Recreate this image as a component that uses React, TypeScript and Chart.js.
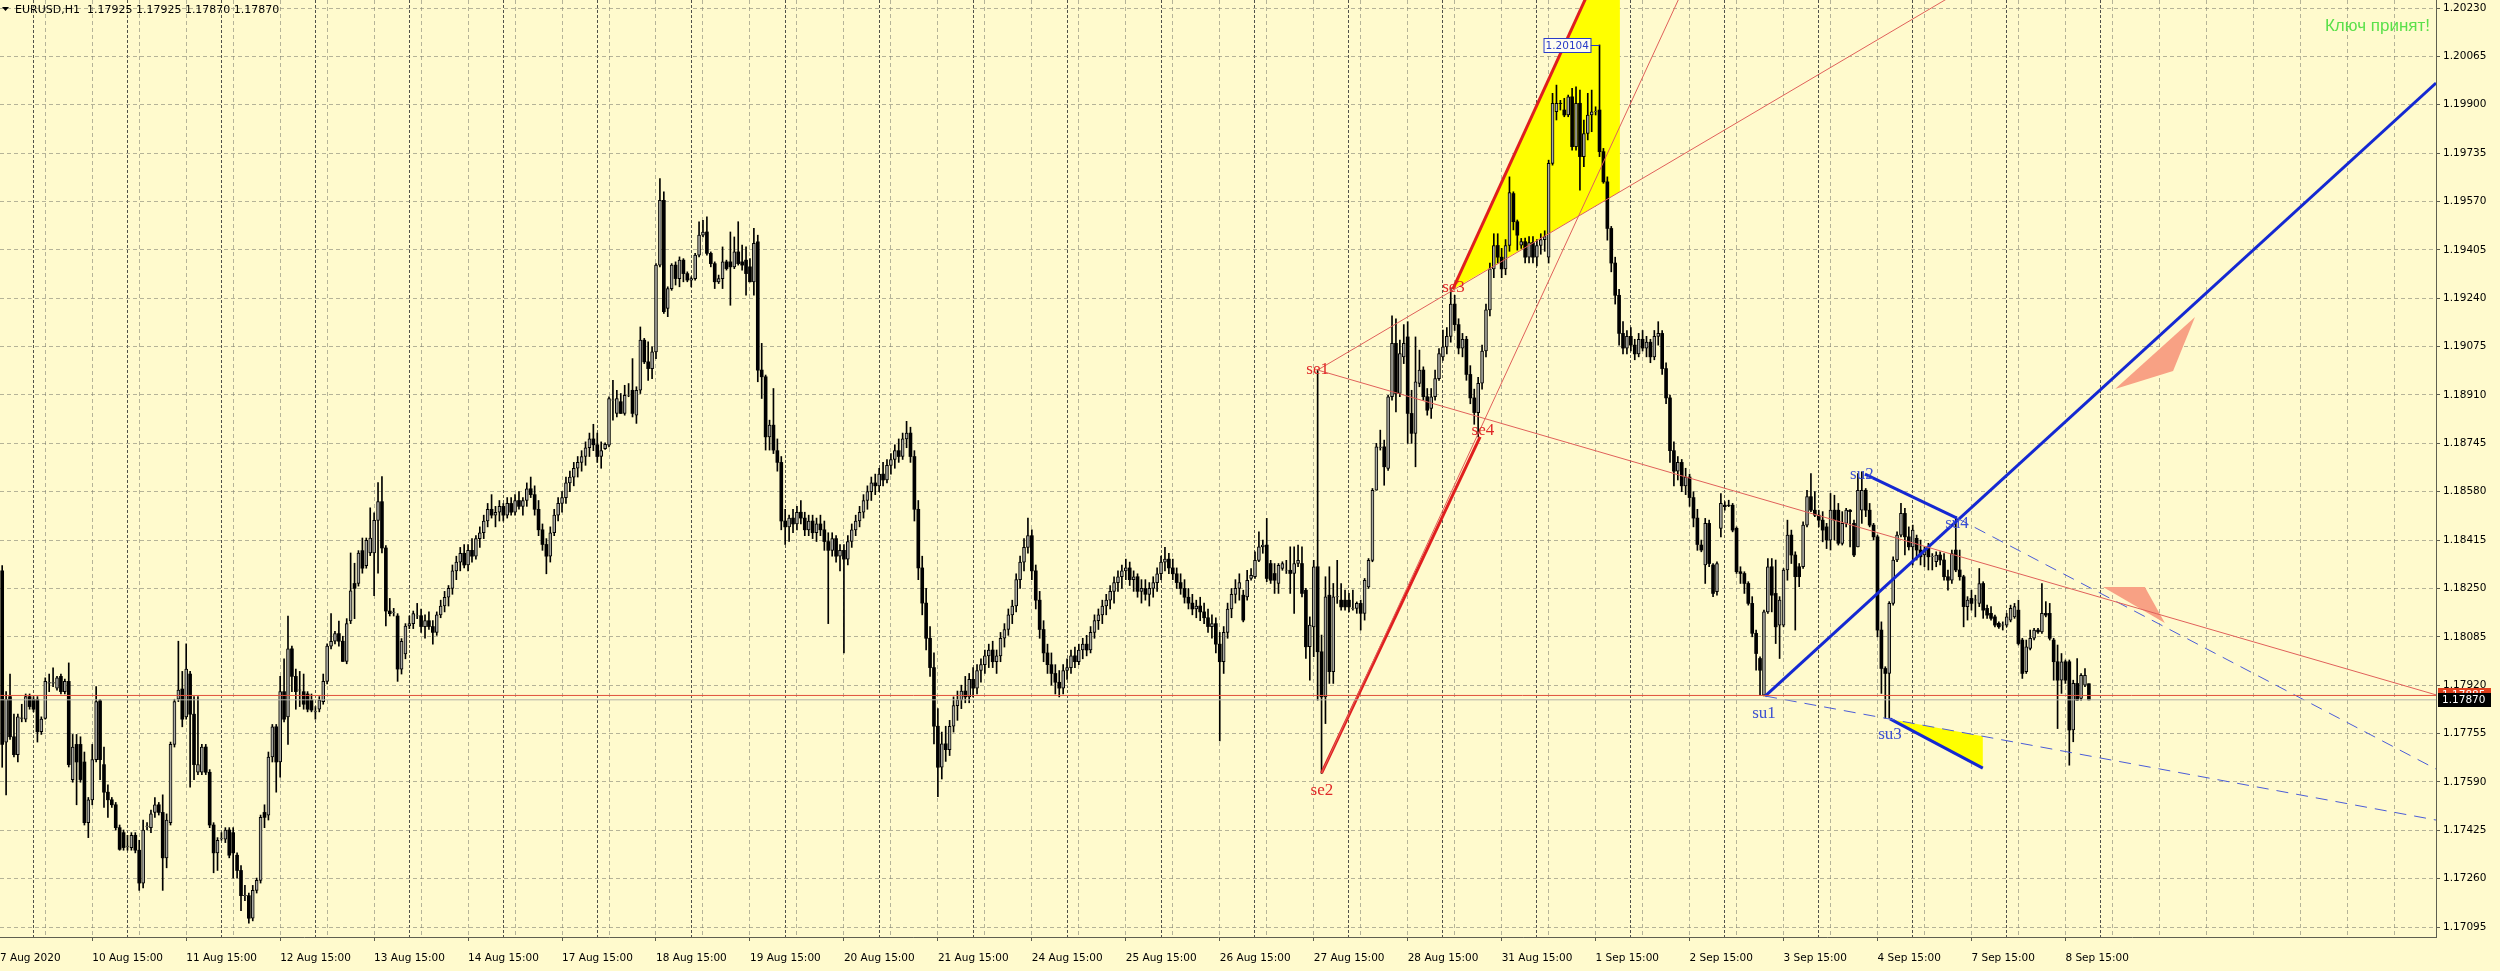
import React, { useEffect, useRef } from 'react';
import { Chart, registerables } from 'chart.js';

Chart.register(...registerables);

// ---------- data ----------
const PRICE_BASE = 1.17; // bar values below are pips above 1.17000
const PIP = 0.0001;

// H1 bars [open, high, low, close] in pips above 1.17000, one array per trading day
const aug07 = [
  [131.0, 132.8, 64.0, 71.8], [72.6, 89.8, 54.6, 87.2], [88.1, 95.8, 73.5, 74.4], [74.4, 82.1, 67.5, 68.3],
  [68.3, 82.1, 65.8, 81.2], [80.7, 85.5, 79.5, 80.9], [80.4, 89.0, 79.5, 88.1], [88.1, 89.0, 83.8, 84.7],
];
const aug10 = [
  [87.2, 88.1, 82.9, 83.8], [87.2, 88.1, 72.6, 76.1], [76.1, 81.2, 75.2, 80.4], [80.7, 94.5, 80.4, 93.3],
  [92.7, 95.8, 89.8, 92.9], [92.7, 97.9, 91.5, 92.9], [91.0, 95.0, 90.3, 94.5], [95.0, 95.8, 89.0, 89.8],
  [89.8, 94.1, 89.0, 93.3], [93.3, 99.6, 64.1, 64.9], [59.8, 75.2, 58.9, 70.9], [71.8, 75.2, 51.2, 65.8],
  [71.8, 74.4, 58.9, 59.8], [65.8, 69.2, 44.3, 45.1], [45.1, 53.7, 40.0, 52.9], [52.9, 71.8, 51.2, 66.6],
  [66.6, 91.5, 65.8, 86.4], [86.7, 87.2, 59.8, 66.6], [64.9, 70.9, 50.3, 55.5], [55.5, 58.0, 46.9, 52.9],
  [52.9, 53.7, 50.3, 51.2], [51.2, 52.0, 42.6, 43.4], [43.4, 44.3, 35.7, 36.0], [41.7, 42.6, 35.7, 36.6],
];
const aug11 = [
  [37.0, 40.8, 35.7, 37.1], [36.6, 41.7, 35.7, 40.8], [40.8, 41.7, 34.8, 35.7], [35.7, 39.1, 22.0, 24.5],
  [24.5, 46.0, 22.8, 42.6], [43.8, 45.1, 42.6, 43.9], [43.4, 49.4, 41.7, 48.1], [48.6, 53.7, 46.9, 51.2],
  [51.2, 52.0, 47.7, 48.6], [48.6, 54.6, 22.0, 33.1], [33.1, 48.1, 29.7, 46.0], [45.1, 72.6, 44.3, 71.8],
  [71.8, 87.2, 70.9, 86.4], [87.2, 107.0, 86.4, 90.3], [90.7, 96.7, 77.8, 80.4], [81.2, 106.1, 80.4, 97.5],
  [95.8, 96.7, 57.2, 82.1], [82.1, 88.1, 59.8, 64.9], [62.3, 88.1, 61.5, 64.9], [62.3, 71.8, 61.5, 70.9],
  [70.9, 71.8, 61.5, 62.3], [62.3, 63.2, 43.4, 44.3], [44.3, 45.1, 28.0, 34.8], [34.8, 40.0, 28.8, 39.1],
];
const aug12 = [
  [39.6, 41.7, 39.1, 39.7], [39.5, 43.4, 38.3, 42.6], [42.6, 43.4, 33.1, 34.0], [41.7, 43.4, 26.2, 34.8],
  [34.0, 34.8, 26.2, 28.8], [28.8, 30.5, 15.1, 20.2], [20.2, 23.7, 18.5, 20.3], [20.2, 21.1, 10.8, 12.5],
  [12.5, 23.7, 11.6, 22.0], [22.0, 26.2, 21.1, 25.4], [25.4, 47.7, 24.5, 46.9], [48.6, 51.2, 43.4, 46.9],
  [47.7, 69.2, 46.0, 67.5], [67.5, 78.6, 65.8, 77.8], [77.8, 78.6, 55.5, 65.8], [65.8, 95.0, 60.6, 89.8],
  [89.8, 101.0, 79.5, 80.4], [81.2, 115.6, 71.8, 104.4], [104.4, 105.3, 89.8, 95.0], [95.0, 97.5, 83.8, 89.8],
  [90.3, 96.7, 84.7, 90.4], [89.8, 95.8, 83.8, 85.5], [89.0, 89.8, 82.9, 83.8], [86.9, 89.0, 82.9, 83.5],
];
const aug13 = [
  [82.9, 84.7, 80.4, 83.0], [83.8, 88.1, 82.9, 86.9], [86.4, 95.8, 85.5, 93.3], [93.3, 106.1, 92.4, 105.3],
  [105.3, 116.4, 104.4, 107.0], [107.0, 110.4, 106.1, 109.6], [109.6, 113.9, 105.3, 107.0], [107.0, 108.7, 100.1, 100.1],
  [100.1, 114.7, 99.3, 113.0], [113.9, 137.1, 113.0, 124.2], [126.7, 133.6, 114.7, 125.0], [126.7, 137.9, 125.8, 137.1],
  [137.9, 142.2, 130.2, 131.9], [132.8, 142.2, 131.9, 141.4], [137.1, 152.5, 136.2, 142.2], [137.1, 150.8, 122.5, 148.2],
  [148.2, 161.1, 130.2, 154.6], [154.6, 163.2, 137.1, 138.8], [138.8, 139.6, 112.2, 117.3], [117.3, 121.6, 115.6, 116.4],
  [116.8, 118.2, 115.6, 116.9], [115.6, 116.4, 93.3, 97.5], [97.5, 107.9, 95.8, 107.0], [102.7, 113.0, 101.0, 112.2],
];
const aug14 = [
  [112.2, 115.6, 111.3, 113.0], [113.0, 117.3, 111.3, 116.4], [115.6, 119.9, 114.7, 115.7], [115.7, 118, 110, 112],
  [112, 116, 108, 114], [114, 117, 111, 112], [112, 114, 106, 110], [110, 117, 109, 116],
  [116, 121, 115, 119], [119, 124, 117, 122], [122, 126, 119, 125], [125, 133, 123, 131],
  [131, 136, 128, 134], [134, 139, 131, 137], [137, 140, 132, 133], [133, 140, 131, 138],
  [138, 142, 134, 136], [136, 143, 135, 142], [142, 146, 139, 144], [144, 150, 142, 148],
  [148, 154, 146, 152], [152, 157, 149, 150], [150, 153, 146, 151], [151, 155, 148, 153],
];
const aug17 = [
  [153, 154, 148, 150], [150, 156, 149, 154], [154, 156, 150, 151], [151, 157, 150, 155],
  [155, 158, 152, 153], [153, 156, 150, 155], [155, 161, 153, 159], [159, 163, 156, 157],
  [157, 160, 150, 152], [152, 155, 143, 145], [145, 147, 138, 140], [140, 142, 130, 136],
  [136, 146, 134, 144], [144, 152, 143, 150], [150, 156, 148, 154], [154, 158, 151, 156],
  [156, 163, 154, 161], [161, 165, 158, 163], [163, 168, 160, 166], [166, 170, 163, 168],
  [168, 172, 165, 170], [170, 175, 167, 173], [173, 178, 170, 176], [176, 181, 172, 174],
];
const aug18 = [
  [174, 178, 168, 170], [170, 175, 166, 172], [172.7, 174.7, 172.4, 174.2], [173.9, 190.4, 173.3, 189.8],
  [189.2, 196.0, 182.4, 189.3], [184.7, 192.6, 183.5, 189.8], [188.7, 191.5, 184.7, 184.7], [184.7, 194.3, 184.1, 190.9],
  [190.9, 194.9, 190.4, 191.0], [192.6, 203.4, 183.5, 184.7], [184.1, 193.8, 181.3, 192.6], [192.6, 214.2, 191.5, 209.7],
  [209.7, 210.3, 201.7, 202.3], [202.3, 209.1, 196.0, 200.0], [200.0, 207.4, 196.6, 205.7], [205.7, 235.8, 203.4, 235.3],
  [235.3, 264.8, 234.7, 257.4], [257.4, 260.3, 218.8, 219.4], [220.5, 227.9, 217.7, 227.3], [227.3, 235.8, 226.7, 235.3],
  [235.3, 236.4, 228.5, 230.7], [230.7, 238.1, 227.9, 237.0], [237.0, 237.5, 229.6, 232.4], [232.4, 233.0, 229.6, 230.2],
];
const aug19 = [
  [230.2, 231.3, 227.9, 230.7], [230.7, 239.3, 230.2, 238.7], [238.7, 250.1, 238.1, 245.5], [245.5, 250.6, 244.9, 246.6],
  [246.6, 251.8, 238.7, 239.3], [239.3, 239.8, 234.7, 235.8], [235.8, 236.4, 227.3, 229.6], [229.6, 231.9, 229.0, 230.7],
  [230.7, 241.5, 227.3, 236.4], [236.4, 237.0, 233.6, 234.1], [236.4, 246.6, 221.6, 234.7], [234.7, 244.9, 234.1, 239.8],
  [239.8, 250.1, 235.3, 235.8], [236.4, 242.1, 233.6, 235.3], [237.0, 241.5, 225.0, 232.4], [234.7, 237.5, 229.6, 229.6],
  [229.6, 247.8, 225.0, 242.7], [243.2, 245.5, 195.5, 199.5], [199.5, 208.6, 189.8, 197.2], [197.2, 197.8, 172.2, 176.7],
  [176.7, 182.4, 172.2, 180.7], [180.7, 193.2, 171.0, 172.2], [172, 176, 165, 168], [168, 170, 145, 148],
];
const aug20 = [
  [148, 152, 140, 146], [146, 150, 141, 149], [149, 152, 144, 147], [147, 153, 145, 151],
  [151, 155, 147, 149], [149, 151, 143, 145], [145, 150, 143, 148], [148, 150, 142, 144],
  [144, 149, 141, 147], [147, 150, 143, 145], [145, 148, 138, 141], [141, 144, 113, 138],
  [138, 144, 136, 142], [142, 143, 134, 136], [136, 140, 131, 138], [138, 140, 103, 135],
  [135, 143, 133, 141], [141, 147, 139, 145], [145, 150, 143, 148], [148, 153, 146, 151],
  [151, 157, 149, 155], [155, 160, 152, 158], [158, 163, 155, 161], [161, 164, 157, 160],
];
const aug21 = [
  [160, 166, 158, 164], [164, 168, 160, 162], [162, 169, 161, 167], [167, 171, 164, 169],
  [169, 174, 166, 172], [172, 176, 168, 170], [170, 178, 169, 176], [176, 182, 173, 178],
  [178, 180, 168, 170], [170, 172, 148, 152], [152, 155, 128, 132], [132, 136, 116, 120],
  [120, 125, 104, 108], [108, 112, 95, 98], [98, 103, 72, 78], [78, 84, 54, 64],
  [64, 76, 60, 72], [72, 78, 66, 70], [70, 80, 68, 78], [78, 88, 76, 85],
  [85, 90, 80, 87], [87, 92, 84, 90], [90, 95, 86, 88], [88, 96, 86, 94],
];
const aug24 = [
  [94, 98, 88, 91], [91, 99, 89, 97], [97, 101, 93, 99], [99, 104, 96, 102],
  [102, 106, 98, 104], [104, 107, 98, 100], [100, 104, 96, 102], [102, 110, 100, 108],
  [108, 113, 105, 111], [111, 118, 109, 116], [116, 121, 113, 119], [119, 130, 117, 128],
  [128, 136, 125, 134], [134, 142, 131, 139], [139, 149, 137, 143], [143, 145, 128, 131],
  [131, 133, 118, 121], [121, 124, 108, 111], [111, 114, 100, 103], [103, 106, 96, 99],
  [99, 103, 92, 96], [96, 99, 89, 93], [93, 97, 88, 91], [91, 99, 89, 97],
];
const aug25 = [
  [97, 101, 94, 98], [98, 104, 96, 102], [102, 105, 98, 100], [100, 106, 99, 104],
  [104, 108, 101, 106], [106, 109, 102, 104], [104, 112, 103, 110], [110, 116, 108, 114],
  [114, 118, 111, 116], [116, 121, 113, 119], [119, 123, 116, 121], [121, 126, 118, 124],
  [124, 129, 120, 127], [127, 131, 124, 129], [129, 133, 125, 131], [131, 135, 128, 132],
  [132, 134, 126, 128], [128, 131, 124, 129], [129, 130, 122, 124], [124, 128, 120, 125],
  [125, 128, 121, 123], [123, 127, 119, 125], [125, 129, 122, 127], [127, 132, 124, 130],
];
const aug26 = [
  [130, 136, 128, 134], [134, 139, 131, 135], [135, 137, 130, 132], [132, 135, 128, 130],
  [130, 132, 125, 127], [127, 130, 123, 125], [125, 128, 120, 122], [122, 125, 118, 120],
  [120, 123, 116, 118], [118, 121, 115, 119], [119, 122, 114, 117], [117, 120, 113, 115],
  [115, 118, 110, 112], [112, 116, 108, 113], [113, 115, 103, 106], [106, 110, 73, 100],
  [100, 112, 96, 110], [110, 120, 108, 118], [118, 125, 115, 123], [123, 128, 120, 125],
  [125, 130, 121, 127], [122.7, 124.4, 113.6, 114.2], [122.1, 131.2, 121.0, 127.8], [128.4, 131.8, 127.8, 129.5],
];
const aug27 = [
  [129.0, 137.5, 128.4, 134.6], [134.6, 144.3, 134.1, 139.2], [139.2, 141.5, 137.0, 139.8], [139.8, 148.9, 127.3, 128.4],
  [133.5, 134.6, 126.7, 127.8], [130.1, 133.5, 123.3, 127.8], [126.7, 133.5, 123.3, 132.9], [131.8, 134.1, 131.2, 133.5],
  [131.2, 134.6, 130.1, 131.3], [131.2, 139.2, 123.3, 130.1], [130.1, 139.2, 116.5, 133.5], [133.5, 139.8, 132.4, 134.6],
  [133.5, 139.2, 122.1, 123.3], [124.4, 125.0, 101.1, 105.1], [105.1, 115.3, 93.7, 112.5], [111.9, 134.6, 101.7, 132.4],
  [132.4, 199.5, 86.9, 103.4], [103.4, 109.1, 61.9, 88.0], [88.0, 129.0, 78.9, 122.1], [122.7, 132.4, 92.6, 96.6],
  [96.6, 126.7, 92.6, 122.1], [122.1, 134.6, 119.9, 122.2], [121.0, 126.7, 117.6, 118.7], [121.0, 124.4, 117.6, 118.7],
];
const aug28 = [
  [121.0, 123.3, 117.0, 118.7], [118.2, 124.4, 117.6, 118.3], [118.2, 120.4, 116.5, 119.9], [119.9, 121.0, 110.8, 116.5],
  [116.5, 128.4, 114.2, 127.8], [125.5, 135.2, 125.0, 134.6], [134.6, 159.1, 134.1, 158.5], [158.5, 174.5, 158.5, 173.3],
  [173.1, 179.0, 172.2, 173.2], [173.3, 175.6, 160.2, 166.5], [165.9, 190.9, 165.3, 190.4], [190.4, 218, 189.2, 208.6],
  [208.6, 217, 185.2, 191.5], [191.5, 209.7, 190.4, 205.1], [204.0, 215, 201.7, 208.6], [210.8, 216, 174.5, 184.7],
  [184.7, 192.6, 174.5, 177.9], [177.9, 210.8, 166.5, 195.5], [194.9, 206.3, 193.8, 199.5], [199.5, 200.6, 189.2, 190.4],
  [190.4, 193.2, 184.1, 185.8], [186.4, 193.2, 183.0, 190.4], [190.4, 199.5, 189.2, 196.6], [196.6, 206.8, 196.0, 205.1],
];
const aug31 = [
  [204.0, 213.1, 202.8, 207.4], [207.4, 214, 205, 211], [211, 227.5, 209, 222], [222, 225, 213, 215],
  [215, 217, 205, 207], [207, 212, 204, 210], [210, 211, 196, 198], [198, 201, 188, 190],
  [190, 193, 181, 185], [185, 197, 176.7, 195], [195, 208, 193, 206], [206, 222, 204, 220],
  [220, 236, 218, 234], [234, 246, 231, 242], [242, 246, 236, 238], [238, 241, 231, 234],
  [234, 244, 232, 242], [242, 265.4, 240, 260.0], [259.7, 260.3, 247.3, 250.1], [250.1, 250.7, 240.4, 245.5],
  [242.1, 244.4, 241.0, 243.3], [243.3, 244.5, 236, 238], [238, 245, 236, 243], [243, 245, 236, 238],
];
const sep01 = [
  [238, 244, 235, 242], [242, 246, 239, 244], [244, 247, 240, 245], [238, 271.1, 236, 270.0],
  [270.0, 293.9, 269.4, 290.5], [287.6, 296.7, 284.8, 290.5], [290.5, 291.5, 288.2, 290.4], [288.2, 292.2, 285.9, 286.5],
  [286.5, 293.3, 285.9, 292.7], [292.7, 295.6, 274.5, 275.7], [275.7, 296.1, 274.5, 290.5], [290.5, 295.0, 260.9, 272.3],
  [272.3, 284.8, 268.9, 280.2], [280.2, 293.9, 278.0, 286.5], [286.5, 295.0, 280.8, 287.6], [287.6, 289.3, 286.5, 287.7],
  [288.2, 310.4, 272.3, 274.0], [274.0, 275.1, 263.2, 263.7], [263.7, 265.4, 243.8, 247.8], [247.8, 248.5, 233, 236],
  [236, 238, 222, 225], [225, 227, 208, 212], [212, 216, 205, 207], [207, 213, 205, 211],
];
const sep02 = [
  [211, 214, 206, 208], [208, 210, 203, 205], [205, 212, 204, 210], [210, 213, 206, 207],
  [207, 211, 204, 209], [209, 210, 202, 204], [204, 213, 203, 211], [211, 216, 208, 212],
  [212, 213, 198, 200], [200, 202, 188, 190], [190, 191, 168, 172], [172, 175, 160, 165],
  [165, 170, 162, 168], [168, 169, 158, 160], [160, 166, 157, 163], [163, 164, 153, 156],
  [156, 158, 146, 149], [149, 152, 138, 140], [139.8, 141.5, 137.5, 138.1], [133.0, 148.9, 126.7, 147.2],
  [147.2, 148.3, 132.4, 133.5], [133.0, 133.5, 122.2, 123.3], [123.9, 134.1, 122.7, 133.5], [145.5, 157.4, 142.6, 154.0],
];
const sep03 = [
  [153.4, 154.6, 151.7, 152.9], [153.4, 155.1, 152.9, 153.3], [153.4, 154.0, 144.3, 144.9], [145.5, 146.0, 130.1, 130.7],
  [130.7, 132.4, 126.7, 130.1], [130.1, 130.7, 123.3, 126.7], [126.7, 127.3, 119.3, 119.9], [119.9, 122.2, 108.5, 109.7],
  [109.7, 110.8, 97.1, 102.8], [101.1, 101.7, 88.6, 97.1], [88.6, 117.6, 88.3, 117.0], [117.0, 135.2, 116.5, 132.4],
  [132.4, 135.2, 117.0, 122.7], [123.3, 134.7, 106.2, 111.9], [112.5, 122.2, 101.1, 121.0], [112.5, 131.8, 111.9, 131.3],
  [131.3, 148.3, 127.8, 143.2], [143.2, 144.9, 133.5, 136.4], [136.4, 137.5, 110.8, 129.0], [132.4, 133.5, 125.6, 129.0],
  [132.4, 147.7, 131.8, 146.6], [146.6, 158.5, 146.0, 156.3], [156.3, 164.2, 151.2, 151.7], [151.7, 158.0, 149.5, 150.0],
];
const sep04 = [
  [150.0, 151.7, 146.0, 148.3], [148.3, 151.2, 140.9, 144.9], [146.0, 147.2, 138.6, 141.5], [141.5, 157.4, 138.1, 151.7],
  [151.7, 156.8, 141.5, 148.3], [151.7, 154.0, 139.8, 140.4], [140.4, 151.2, 139.8, 147.2], [147.2, 152.3, 146.0, 151.7],
  [151.7, 151.9, 139.2, 151.2], [147.2, 148.3, 135.8, 136.4], [139.2, 164.2, 139.2, 158.5], [151.7, 164.8, 147.2, 158.5],
  [158.5, 159.1, 149.5, 151.7], [151.7, 154.0, 146.0, 146.6], [146.6, 147.2, 141.5, 142.6], [142.6, 143.2, 108.5, 110.8],
  [110.8, 113.6, 89.2, 97.7], [97.7, 98.3, 80.7, 96.0], [96.0, 120.5, 80.7, 119.9], [119.9, 135.8, 119.3, 134.7],
  [134.7, 144.3, 134.1, 143.2], [143.2, 154.0, 142.6, 150.6], [150.6, 152.3, 136.4, 142.6], [142.6, 146.0, 138.1, 139.2],
];
const sep07 = [
  [139.2, 146.6, 133.0, 144.9], [142.1, 143.2, 134.7, 138.1], [138.1, 141.5, 133.0, 135.8], [136.4, 139.2, 132.4, 138.1],
  [139.2, 140.4, 131.3, 135.8], [135.8, 136.9, 131.3, 135.9], [134.1, 137.5, 132.4, 136.4], [136.4, 137.5, 133.0, 134.7],
  [134.7, 136.9, 127.8, 129.0], [129.0, 131.3, 124.4, 127.8], [127.8, 138.1, 126.7, 136.9], [138.1, 149.5, 130.7, 131.3],
  [131.3, 138.1, 127.8, 129.0], [129.0, 129.5, 111.9, 118.8], [118.8, 122.2, 114.2, 121.0], [121.6, 124.4, 117.6, 119.9],
  [121.0, 122.7, 115.3, 121.1], [119.9, 131.8, 118.8, 126.7], [126.7, 127.3, 114.8, 117.6], [118.2, 119.3, 114.8, 115.9],
  [116.5, 118.8, 114.2, 114.8], [115.3, 115.9, 111.9, 112.5], [113.1, 113.6, 111.4, 111.9], [112.5, 113.6, 110.8, 112.6],
];
const sep08 = [
  [112.5, 116.5, 111.9, 115.3], [114.2, 119.3, 113.6, 118.2], [115.3, 119.9, 114.8, 118.8], [117.6, 121.0, 105.7, 106.2],
  [107.4, 108.0, 94.3, 96.0], [96.6, 107.4, 96.0, 105.1], [104.5, 110.8, 104.0, 108.0], [108.0, 111.4, 107.4, 110.8],
  [110.8, 111.4, 109.7, 110.2], [110.2, 126.7, 109.7, 116.5], [116.5, 120.5, 115.3, 115.9], [116.5, 119.9, 107.4, 108.0],
  [107.4, 108.0, 93.7, 100.0], [100.0, 105.7, 77.2, 93.7], [93.7, 102.8, 89.2, 100.0], [100.0, 100.6, 92.6, 93.7],
  [100.0, 100.6, 64.7, 76.7], [76.7, 93.7, 72.7, 92.6], [92.6, 101.1, 86.9, 86.9], [87.5, 96.0, 86.9, 95.4],
  [92.0, 97.7, 91.5, 95.4], [92.5, 92.5, 87.0, 87.0],
];
const tradingDays = [
  aug07, aug10, aug11, aug12, aug13, aug14, aug17, aug18, aug19, aug20, aug21, aug24, aug25, aug26,
  aug27, aug28, aug31, sep01, sep02, sep03, sep04, sep07, sep08,
];

// axis labels
const firstDateLabel = '7 Aug 2020';
const dayLabels = [
  '10 Aug 15:00', '11 Aug 15:00', '12 Aug 15:00', '13 Aug 15:00', '14 Aug 15:00', '17 Aug 15:00',
  '18 Aug 15:00', '19 Aug 15:00', '20 Aug 15:00', '21 Aug 15:00', '24 Aug 15:00', '25 Aug 15:00',
  '26 Aug 15:00', '27 Aug 15:00', '28 Aug 15:00', '31 Aug 15:00', '1 Sep 15:00', '2 Sep 15:00',
  '3 Sep 15:00', '4 Sep 15:00', '7 Sep 15:00', '8 Sep 15:00',
];
const FIRST_LABEL_BAR = 23; // bar of "10 Aug 15:00"
const FIRST_MIDNIGHT_BAR = 8; // bar of 10 Aug 00:00
const BARS_PER_DAY = 24;
const yTickValues = [
  1.17095, 1.1726, 1.17425, 1.1759, 1.17755, 1.1792, 1.18085, 1.1825, 1.18415, 1.1858,
  1.18745, 1.1891, 1.19075, 1.1924, 1.19405, 1.1957, 1.19735, 1.199, 1.20065, 1.2023,
];

// visible window
const X_MIN = -0.56;
const X_MAX = 621.66;
const Y_MIN = 1.17061;
const Y_MAX = 1.202573;

// price levels
const hLineLevel = 1.17885;
const bidLevel = 1.1787;
const titleText = 'EURUSD,H1  1.17925 1.17925 1.17870 1.17870';
const keyText = 'Ключ принят!';
const highMarkBar = 408;
const highMarkPrice = 1.20104;

// wave points [bar, price]
const se1 = [336, 1.18995];
const se2 = [337, 1.1762];
const se3 = [370.5, 1.1927];
const se4 = [377.5, 1.18767];
const su1 = [450.3, 1.17883];
const su2 = [475.8, 1.1864];
const su3 = [482.2, 1.17805];
const su4 = [499.3, 1.1849];

// line segments as [bar, price] pairs
const redThinA = [se1, [500, 1.20287]];
const redThinB = [se1, [X_MAX, 1.17887]];
const redThinC = [se2, [432, 1.2037]];
const redThick1 = [se2, se4];
const redThick2 = [se3, [407, 1.20337]];
const yellowTop = [se3, [407, 1.20337], [413.2, 1.20337], [413.2, 1.19603]];
const blueThick1 = [su1, [X_MAX, 1.19974]];
const blueThick2 = [su2, su4];
const blueThick3 = [su3, [505.9, 1.17637]];
const blueDash1 = [su4, [X_MAX, 1.17634]];
const blueDash2 = [su1, [X_MAX, 1.1746]];
const yellowBottom = [su3, [505.9, 1.17746], [505.9, 1.17637]];
const arrowUp = [[560.1, 1.19176], [554.5, 1.18992], [539.7, 1.1893]];
const arrowDown = [[536.6, 1.18255], [547.3, 1.18255], [552.4, 1.18132]];

// text labels [text, bar, price]
const seLabels = [['se1', 336, 1.18998], ['se2', 337.1, 1.17562], ['se3', 370.7, 1.19278], ['se4', 378.2, 1.1879]];
const suLabels = [['su1', 450, 1.17825], ['su2', 475, 1.1864], ['su3', 482.2, 1.17753], ['su4', 499.3, 1.1847]];

// ---------- styling ----------
const BG = '#FFFACD';
const AXIS_FONT = { family: 'DejaVu Sans', size: 10.5 };
const GRID_COLOR = 'rgba(120,120,110,0.55)';
const SEP_COLOR = 'rgba(50,50,50,0.85)';
const AXIS_COLOR = '#5f5f50';
const BULL_FILL = '#A9A9A2';

const toPrice = (p: number) => +(PRICE_BASE + p * PIP).toFixed(5);
const pts = (arr: number[][]) => arr.map(([x, y]) => ({ x, y }));

function buildConfig() {
  const bars = tradingDays.flat();
  const wicks: any[] = [];
  const bulls: any[] = [];
  const bears: any[] = [];
  bars.forEach((b, i) => {
    const o = toPrice(b[0]);
    const h = toPrice(b[1]);
    const l = toPrice(b[2]);
    const c = toPrice(b[3]);
    wicks.push({ x: i, y: [l, h] });
    if (c > o) bulls.push({ x: i, y: [o, c] });
    else if (c < o) bears.push({ x: i, y: [c, o] });
    else bears.push({ x: i, y: [o - 0.000013, o + 0.000013] });
  });

  const gridTicks: number[] = [X_MIN];
  for (let v = FIRST_LABEL_BAR - 12; v <= X_MAX; v += 12) gridTicks.push(v);
  const sepTicks: number[] = [];
  for (let k = 0; k <= dayLabels.length; k++) sepTicks.push(FIRST_MIDNIGHT_BAR + k * BARS_PER_DAY);

  const labelFor = (v: number) => {
    if (v === X_MIN) return firstDateLabel;
    const k = (v - FIRST_LABEL_BAR) / BARS_PER_DAY;
    if (Number.isInteger(k) && k >= 0 && k < dayLabels.length) return dayLabels[k];
    return '';
  };

  const line = (data: number[][], color: string, width: number, dash: number[] = []) => ({
    type: 'line',
    data: pts(data),
    borderColor: color,
    borderWidth: width,
    borderDash: dash,
    pointRadius: 0,
    fill: false,
    tension: 0,
    clip: 0,
    order: 0,
  });
  const shape = (data: number[][], color: string, order: number) => ({
    type: 'line',
    data: pts(data),
    borderColor: 'transparent',
    borderWidth: 0,
    backgroundColor: color,
    pointRadius: 0,
    fill: 'shape',
    tension: 0,
    order,
  });

  const datasets: any[] = [
    shape(yellowTop, '#FFFF00', 10),
    shape(yellowBottom, '#FFFF00', 10),
    shape(arrowUp, '#F8A184', 10),
    shape(arrowDown, '#F8A184', 10),
    {
      type: 'bar', data: wicks, barThickness: 1, grouped: false, backgroundColor: '#000000',
      borderWidth: 0, order: 5,
    },
    {
      type: 'bar', data: bulls, barThickness: 3, grouped: false, backgroundColor: BULL_FILL,
      borderColor: '#000000', borderWidth: 1, borderSkipped: false, order: 4,
    },
    {
      type: 'bar', data: bears, barThickness: 3, grouped: false, backgroundColor: '#000000',
      borderWidth: 0, order: 4,
    },
    line([[X_MIN, bidLevel], [X_MAX, bidLevel]], '#B4B4A8', 1),
    line([[X_MIN, hLineLevel], [X_MAX, hLineLevel]], '#E0503C', 1),
    line(redThinA, '#E0605A', 1),
    line(redThinB, '#E0605A', 1),
    line(redThinC, '#E0605A', 1),
    line(redThick1, '#E01E1E', 3),
    line(redThick2, '#E01E1E', 3),
    line(blueDash1, '#4A5CD8', 1, [12, 8]),
    line(blueDash2, '#4A5CD8', 1, [12, 8]),
    line(blueThick1, '#1428D2', 3),
    line(blueThick2, '#1428D2', 3),
    line(blueThick3, '#1428D2', 3),
  ];

  const overlay = {
    id: 'overlay',
    beforeDraw(chart: any) {
      const { ctx, width, height } = chart;
      ctx.save();
      ctx.fillStyle = BG;
      ctx.fillRect(0, 0, width, height);
      ctx.restore();
    },
    afterDatasetsDraw(chart: any) {
      const { ctx, scales } = chart;
      const xs = scales.x;
      const ys = scales.y;
      ctx.save();
      ctx.textAlign = 'center';
      ctx.textBaseline = 'middle';
      ctx.font = '17px "Liberation Serif"';
      for (const [t, bx, py] of seLabels as any[]) {
        ctx.fillStyle = '#E02828';
        ctx.fillText(t, xs.getPixelForValue(bx), ys.getPixelForValue(py));
      }
      for (const [t, bx, py] of suLabels as any[]) {
        ctx.fillStyle = '#3C50D2';
        ctx.fillText(t, xs.getPixelForValue(bx), ys.getPixelForValue(py));
      }
      // high price marker
      const hx = xs.getPixelForValue(highMarkBar);
      const hy = Math.round(ys.getPixelForValue(highMarkPrice)) + 0.5;
      ctx.strokeStyle = '#2A3CC8';
      ctx.lineWidth = 1;
      ctx.beginPath();
      ctx.moveTo(hx - 9, hy);
      ctx.lineTo(hx, hy);
      ctx.stroke();
      ctx.fillStyle = '#FFFEF0';
      ctx.fillRect(hx - 56, hy - 7, 47, 14);
      ctx.strokeRect(hx - 56 + 0.5, hy - 7, 47, 14);
      ctx.fillStyle = '#2A3CC8';
      ctx.font = '10.5px "DejaVu Sans"';
      ctx.textAlign = 'left';
      ctx.fillText(highMarkPrice.toFixed(5), hx - 54, hy + 0.5);
      ctx.restore();
    },
    afterDraw(chart: any) {
      const { ctx, scales, chartArea } = chart;
      const ys = scales.y;
      ctx.save();
      // title
      ctx.fillStyle = '#000';
      ctx.beginPath();
      ctx.moveTo(2, 7);
      ctx.lineTo(9, 7);
      ctx.lineTo(5.5, 11);
      ctx.closePath();
      ctx.fill();
      ctx.font = '11px "DejaVu Sans"';
      ctx.textAlign = 'left';
      ctx.textBaseline = 'alphabetic';
      ctx.fillText(titleText, 15, 13);
      // key text
      ctx.fillStyle = '#5BE04A';
      ctx.font = '17px "Liberation Sans"';
      ctx.textAlign = 'right';
      ctx.fillText(keyText, chartArea.right - 6, 31);
      // right axis price tags
      const bx = chartArea.right + 2;
      const ry = ys.getPixelForValue(hLineLevel);
      ctx.fillStyle = '#E0401E';
      ctx.fillRect(bx, Math.round(ry) - 7, 53, 14);
      ctx.fillStyle = '#FFFFFF';
      ctx.font = '10.5px "DejaVu Sans"';
      ctx.textAlign = 'left';
      ctx.textBaseline = 'middle';
      ctx.fillText(hLineLevel.toFixed(5), bx + 4, Math.round(ry));
      const by = ys.getPixelForValue(bidLevel);
      ctx.fillStyle = '#000000';
      ctx.fillRect(bx, Math.round(by) - 7, 53, 14);
      ctx.fillStyle = '#FFFFFF';
      ctx.fillText(bidLevel.toFixed(5), bx + 4, Math.round(by) + 0.5);
      ctx.restore();
    },
  };

  return {
    type: 'line',
    data: { datasets },
    plugins: [overlay],
    options: {
      animation: false,
      responsive: false,
      devicePixelRatio: 1,
      events: [],
      layout: { padding: 0 },
      plugins: { legend: { display: false }, tooltip: { enabled: false }, title: { display: false } },
      scales: {
        x: {
          type: 'linear',
          position: 'bottom',
          offset: false,
          bounds: 'ticks',
          min: X_MIN,
          max: X_MAX,
          afterBuildTicks: (s: any) => { s.ticks = gridTicks.map((v) => ({ value: v })); },
          afterFit: (s: any) => { s.height = 34; s.paddingLeft = 0; s.paddingRight = 0; },
          ticks: {
            autoSkip: false, maxRotation: 0, minRotation: 0, align: 'start', padding: 11,
            color: '#000', font: AXIS_FONT, callback: (v: number) => labelFor(v),
          },
          grid: {
            offset: false,
            color: (c: any) => (c.tick && c.tick.value === X_MIN ? 'transparent' : GRID_COLOR),
            lineWidth: 1,
            tickLength: 4,
            tickColor: (c: any) => (c.tick && labelFor(c.tick.value) && c.tick.value !== X_MIN ? AXIS_COLOR : 'transparent'),
          },
          border: { display: true, color: AXIS_COLOR, width: 1, dash: [4, 3] },
        },
        x2: {
          type: 'linear',
          position: 'bottom',
          offset: false,
          min: X_MIN,
          max: X_MAX,
          afterBuildTicks: (s: any) => { s.ticks = sepTicks.map((v) => ({ value: v })); },
          afterFit: (s: any) => { s.height = 0; s.paddingLeft = 0; s.paddingRight = 0; },
          ticks: { display: false },
          grid: { offset: false, color: SEP_COLOR, lineWidth: 1, drawTicks: false, tickLength: 0 },
          border: { display: false, dash: [3, 2] },
        },
        y: {
          type: 'linear',
          position: 'right',
          min: Y_MIN,
          max: Y_MAX,
          afterBuildTicks: (s: any) => { s.ticks = yTickValues.map((v) => ({ value: v })); },
          afterFit: (s: any) => { s.width = 64; s.paddingTop = 0; s.paddingBottom = 0; },
          ticks: { padding: 3, color: '#000', font: AXIS_FONT, callback: (v: number) => v.toFixed(5) },
          grid: { color: GRID_COLOR, lineWidth: 1, tickLength: 4, tickColor: AXIS_COLOR },
          border: { display: true, color: AXIS_COLOR, width: 1, dash: [4, 3] },
        },
      },
    },
  };
}

export default function App() {
  const ref = useRef<HTMLCanvasElement>(null);
  useEffect(() => {
    document.body.style.margin = '0';
    const chart = new Chart(ref.current as HTMLCanvasElement, buildConfig() as any);
    return () => chart.destroy();
  }, []);
  return (
    <div style={{ width: 2500, height: 971 }}>
      <canvas ref={ref} width={2500} height={971} style={{ display: 'block', width: 2500, height: 971 }} />
    </div>
  );
}
